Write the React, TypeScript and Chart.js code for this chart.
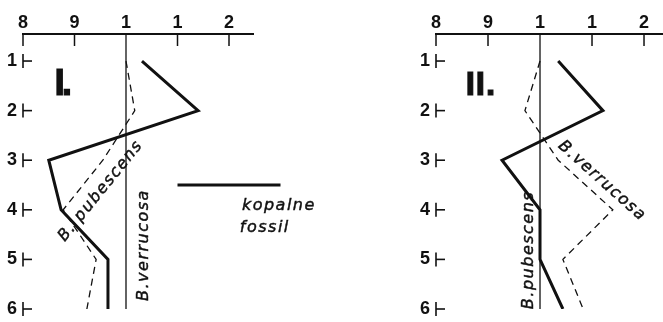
import { useEffect, useRef } from "react";
import { Chart, registerables } from "chart.js";

Chart.register(...registerables);

// depth levels of the profile (1 = top)
const depths = [1, 2, 3, 4, 5, 6];

// ratio scale along the top and the abbreviated labels printed over it
const ratioTicks = [0.8, 0.9, 1.0, 1.1, 1.2];
const ratioTickLabels = ["8", "9", "1", "1", "2"];

// profile I: B. verrucosa is the reference (= 1)
const fossilI = [1.031, 1.14, 0.85, 0.874, 0.965, 0.965];
const pubescensI = [1.0, 1.017, 0.955, 0.878, 0.942, 0.924];
const verrucosaI = [1, 1, 1, 1, 1, 1];

// profile II: B. pubescens is the reference (= 1)
const fossilII = [1.035, 1.121, 0.927, 1.0, 1.0, 1.044];
const verrucosaII = [1.0, 0.971, 1.035, 1.14, 1.044, 1.083];
const pubescensII = [1, 1, 1, 1, 1, 1];

const INK = "#111";
const TICK_FONT = { family: "'Liberation Sans', Arial, sans-serif", size: 18, weight: "bold" as const };
const ITALIC = "italic 16px 'DejaVu Sans', sans-serif";

type Note = {
  text: string;
  x: number;
  y: number;
  angle?: number;
  font?: string;
  spacing?: number;
  align?: CanvasTextAlign;
  baseline?: CanvasTextBaseline;
  stroke?: number;
};

type PanelProps = {
  left: number;
  width: number;
  padLeft: number;
  padRight: number;
  xMax: number;
  fossil: number[];
  dashed: number[];
  reference: number[];
  dashedName: string;
  referenceName: string;
  notes: Note[];
  legend?: { from: number; to: number; at: number };
};

function pts(values: number[]) {
  return depths.map((d, i) => ({ x: values[i], y: d }));
}

function Profile(p: PanelProps) {
  const ref = useRef<HTMLCanvasElement>(null);

  useEffect(() => {
    const canvas = ref.current;
    if (!canvas) return;

    const decor = {
      id: "profileDecor",
      afterDraw(chart: any) {
        const { ctx, chartArea, scales } = chart;
        const xs = scales.x;
        const ys = scales.y;
        const seg = (x1: number, y1: number, x2: number, y2: number, w: number) => {
          ctx.lineWidth = w;
          ctx.beginPath();
          ctx.moveTo(x1, y1);
          ctx.lineTo(x2, y2);
          ctx.stroke();
        };
        ctx.save();
        ctx.strokeStyle = INK;
        ctx.fillStyle = INK;
        ctx.lineCap = "butt";

        // inward tick marks under the ratio axis; the reference tick runs down to the first depth
        ratioTicks.forEach((v) => {
          const px = xs.getPixelForValue(v);
          const isRef = v === p.reference[0];
          const end = isRef ? ys.getPixelForValue(depths[0]) : chartArea.top + 12;
          seg(px, chartArea.top, px, end, isRef ? 1.3 : 1.5);
        });

        // depth marks drawn as small "├" shapes
        depths.forEach((d) => {
          const py = ys.getPixelForValue(d);
          seg(chartArea.left, py - 7, chartArea.left, py + 7, 1.6);
          seg(chartArea.left, py, chartArea.left + 9, py, 1.6);
        });

        if (p.legend) {
          const y = ys.getPixelForValue(p.legend.at);
          seg(xs.getPixelForValue(p.legend.from), y, xs.getPixelForValue(p.legend.to), y, 3);
        }

        for (const n of p.notes) {
          ctx.save();
          ctx.translate(xs.getPixelForValue(n.x), ys.getPixelForValue(n.y));
          ctx.rotate(((n.angle || 0) * Math.PI) / 180);
          ctx.font = n.font || ITALIC;
          (ctx as any).letterSpacing = `${n.spacing ?? 1.5}px`;
          ctx.textAlign = n.align || "center";
          ctx.textBaseline = n.baseline || "middle";
          ctx.fillText(n.text, 0, 0);
          const sw = n.stroke ?? 0.45;
          if (sw > 0) {
            ctx.lineWidth = sw;
            ctx.strokeText(n.text, 0, 0);
          }
          ctx.restore();
        }
        ctx.restore();
      },
    };

    const chart = new Chart(canvas, {
      type: "line",
      data: {
        datasets: [
          {
            label: "kopalne / fossil",
            data: pts(p.fossil),
            borderColor: INK,
            borderWidth: 3,
            borderJoinStyle: "miter",
            pointRadius: 0,
            tension: 0,
          },
          {
            label: p.dashedName,
            data: pts(p.dashed),
            borderColor: INK,
            borderWidth: 1.3,
            borderDash: [7, 5],
            pointRadius: 0,
            tension: 0,
          },
          {
            label: p.referenceName,
            data: pts(p.reference),
            borderColor: INK,
            borderWidth: 1.3,
            pointRadius: 0,
            tension: 0,
          },
        ],
      },
      options: {
        responsive: false,
        animation: false,
        indexAxis: "y",
        layout: { padding: { left: p.padLeft, right: p.padRight, top: 0, bottom: 13 } },
        plugins: { legend: { display: false }, tooltip: { enabled: false } },
        scales: {
          x: {
            type: "linear",
            position: "top",
            min: 0.8,
            max: p.xMax,
            afterBuildTicks: (s: any) => {
              s.ticks = ratioTicks.map((v) => ({ value: v }));
            },
            afterFit: (s: any) => {
              s.height = 34;
              s.paddingLeft = 0;
              s.paddingRight = 0;
            },
            ticks: {
              callback: (_v: any, i: number) => ratioTickLabels[i],
              font: TICK_FONT,
              color: INK,
              padding: 0,
              maxRotation: 0,
              autoSkip: false,
            },
            grid: { display: false, drawTicks: false },
            border: { display: true, color: INK, width: 2 },
          },
          y: {
            type: "linear",
            reverse: true,
            min: 0.455,
            max: 6,
            afterBuildTicks: (s: any) => {
              s.ticks = depths.map((d) => ({ value: d }));
            },
            afterFit: (s: any) => {
              s.width = 23;
              s.paddingTop = 0;
              s.paddingBottom = 0;
            },
            ticks: {
              callback: (v: any) => String(v),
              font: TICK_FONT,
              color: INK,
              padding: 6,
              autoSkip: false,
            },
            grid: { display: false, drawTicks: false },
            border: { display: false },
          },
        },
      },
      plugins: [decor],
    } as any);

    return () => chart.destroy();
  }, []);

  return (
    <canvas
      ref={ref}
      width={p.width}
      height={322}
      style={{ position: "absolute", left: p.left, top: 0, width: p.width, height: 322 }}
    />
  );
}

export default function App() {
  return (
    <div style={{ position: "absolute", left: 0, top: 0, width: 663, height: 322, background: "#fff", overflow: "hidden" }}>
      <Profile
        left={0}
        width={331}
        padLeft={0}
        padRight={78}
        xMax={1.2466}
        fossil={fossilI}
        dashed={pubescensI}
        reference={verrucosaI}
        dashedName="B. pubescens"
        referenceName="B. verrucosa"
        legend={{ from: 1.1, to: 1.3, at: 3.5 }}
        notes={[
          { text: "I.", x: 0.861, y: 1.686, font: "bold 37px 'Liberation Sans', sans-serif", align: "left", baseline: "alphabetic", spacing: -3, stroke: 1.2 },
          { text: "B. pubescens", x: 0.951, y: 3.62, angle: -51 },
          { text: "B.verrucosa", x: 1.035, y: 4.71, angle: -90 },
          { text: "kopalne", x: 1.225, y: 3.92, align: "left" },
          { text: "fossil", x: 1.221, y: 4.37, align: "left" },
        ]}
      />
      <Profile
        left={331}
        width={332}
        padLeft={82}
        padRight={0}
        xMax={1.2365}
        fossil={fossilII}
        dashed={verrucosaII}
        reference={pubescensII}
        dashedName="B. verrucosa"
        referenceName="B. pubescens"
        notes={[
          { text: "II.", x: 0.857, y: 1.686, font: "bold 33px 'Liberation Sans', sans-serif", align: "left", baseline: "alphabetic", spacing: 1, stroke: 1.2 },
          { text: "B.verrucosa", x: 1.119, y: 3.42, angle: 41.8 },
          { text: "B.pubescens", x: 0.979, y: 4.81, angle: -90 },
        ]}
      />
    </div>
  );
}
